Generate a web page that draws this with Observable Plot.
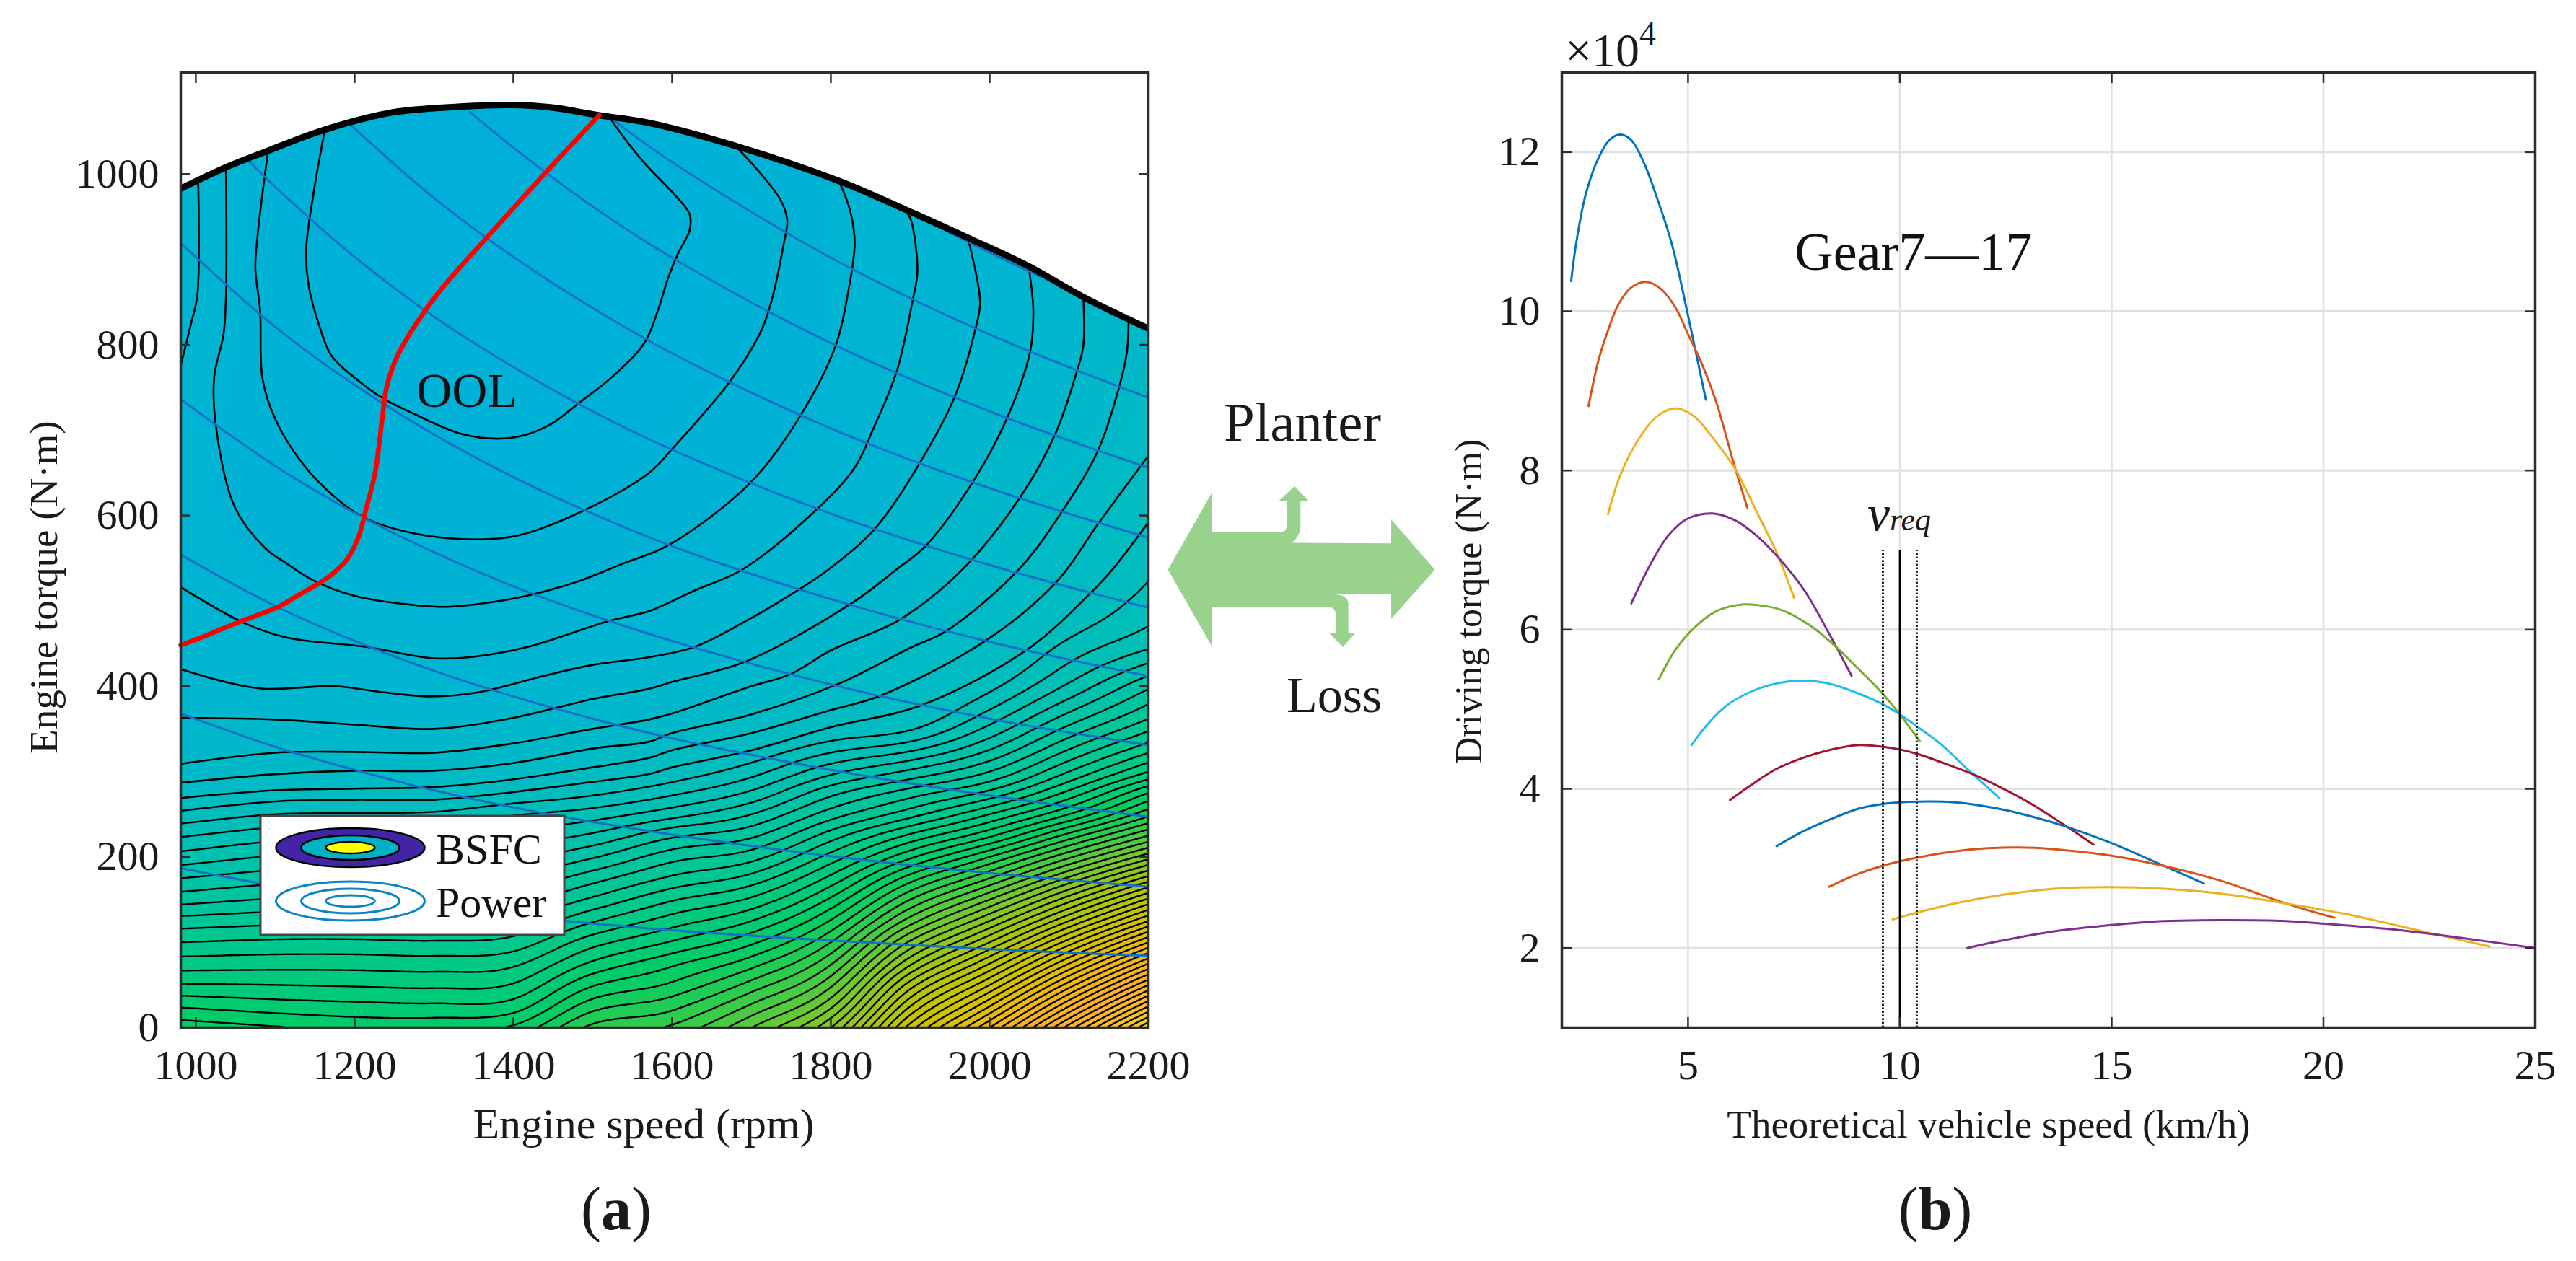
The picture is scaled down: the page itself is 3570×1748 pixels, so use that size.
<!DOCTYPE html>
<html><head><meta charset="utf-8">
<script src="https://cdn.jsdelivr.net/npm/d3@7"></script>
<script src="https://cdn.jsdelivr.net/npm/@observablehq/plot@0.6"></script>
<style>
html,body{margin:0;padding:0;background:#fff}
#root{position:relative;width:3570px;height:1748px;overflow:hidden;font-family:"Liberation Serif",serif;color:#1a1a1a}
#root>div.plot{position:absolute;top:0}
.lab{position:absolute;white-space:nowrap;transform:translate(-50%,-50%);line-height:1}
.rot{transform:translate(-50%,-50%) rotate(-90deg)}
svg.over{position:absolute;left:0;top:0}
</style></head>
<body><div id="root"></div>
<script>
// ---------- panel (a): values ----------
const speedTicks=[1000,1200,1400,1600,1800,2000,2200];
const torqueTicks=[0,200,400,600,800,1000];
const envelope=[[981,983],[1038,1008],[1090,1027],[1159,1051],[1246,1072],[1333,1079],[1397,1081],[1449,1078],[1507,1069],[1571,1060],[1680,1033],[1810,992],[1895,958],[1976,924],[2049,892],[2118,856],[2200,819]];
const ool=[[1508,1069],[1443,1004],[1368,927],[1310,866],[1275,821],[1252,783],[1240,749],[1235,715],[1226,651],[1214,606],[1205,575],[1190,548],[1170,530],[1154,520],[1130,507],[1106,494],[1080,484],[1057,476],[1035,468],[1012,459],[981,448]];
const bsfc1=[[1162,1049],[1148,976],[1139,911],[1142,870],[1156,821],[1171,787],[1206,757],[1238,736],[1275,719],[1333,696],[1379,690],[1414,694],[1449,708],[1483,732],[1524,762],[1565,802],[1582,840],[1596,881],[1608,908],[1622,934],[1622,953],[1605,974],[1565,1013],[1536,1047],[1520,1068]];
const bsfc2=[[1091,1027],[1078,930],[1075,889],[1081,840],[1084,760],[1101,711],[1136,659],[1171,625],[1211,598],[1275,579],[1356,572],[1408,577],[1489,606],[1571,650],[1601,679],[1672,756],[1711,814],[1723,844],[1741,920],[1745,946],[1737,969],[1713,999],[1680,1033]];
const bsfc3=[[1038,1006],[1038,859],[1035,813],[1023,761],[1026,700],[1049,610],[1087,562],[1114,544],[1150,523],[1199,506],[1256,497],[1316,493],[1377,499],[1426,508],[1479,522],[1539,544],[1595,565],[1697,637],[1761,716],[1806,799],[1822,863],[1830,920],[1824,958],[1812,988]];
const bsfc4a=[[1003,990],[1002,859],[994,825],[981,776]];
const bsfc4b=[[981,516],[1061,474],[1114,457],[1215,446],[1296,433],[1345,434],[1418,446],[1519,476],[1571,488],[1628,512],[1689,537],[1782,607],[1830,656],[1855,705],[1883,769],[1903,852],[1909,886],[1901,946],[1895,956]];
const bsfc5=[[981,420],[1033,406],[1085,397],[1175,400],[1235,393],[1296,388],[1357,393],[1438,412],[1500,425],[1571,434],[1628,446],[1700,480],[1761,514],[1796,536],[1855,584],[1911,660],[1956,739],[1982,818],[1988,848],[1984,878],[1974,920]];
const bsfc6=[[981,363],[1100,361],[1200,355],[1300,350],[1400,363],[1500,385],[1571,397],[1600,405],[1693,429],[1826,497],[1883,537],[1920,565],[1980,641],[2021,712],[2051,792],[2055,841],[2049,892]];
const bsfc7=[[981,309],[1100,322],[1200,323],[1300,322],[1400,333],[1500,350],[1571,361],[1600,368],[1700,400],[1749,414],[1800,442],[1887,478],[1966,537],[2039,622],[2082,694],[2110,769],[2118,799],[2118,856]];
const bsfc8=[[981,287],[1100,297],[1200,301],[1300,301],[1400,310],[1500,327],[1571,335],[1600,345],[1700,367],[1810,403],[1900,445],[1946,465],[2037,537],[2090,603],[2136,675],[2163,750],[2173,792],[2175,828]];
const bsfc9=[[981,269],[1100,278],[1200,280],[1300,282],[1400,291],[1500,305],[1571,316],[1600,325],[1700,345],[1800,372],[1863,389],[1996,454],[2084,522],[2138,592],[2200,670]];
const bsfc10=[[981,254],[1100,265],[1200,267],[1300,267],[1400,276],[1500,288],[1571,297],[1600,305],[1700,325],[1800,352],[1915,378],[2049,444],[2128,510],[2155,537],[2200,592]];
const bsfcLines=[bsfc1,bsfc2,bsfc3,bsfc4a,bsfc4b,bsfc5,bsfc6,bsfc7,bsfc8,bsfc9,bsfc10];

const power1=[[981,187],[1100,166],[1200,153],[1300,141],[1400,131],[1500,122],[1600,114],[1800,102],[2000,92],[2200,84]];
const power2=[[981,368],[1100,329],[1200,302],[1300,278],[1400,258],[1500,241],[1600,226],[1800,201],[2000,181],[2200,165]];
const power3=[[981,554],[1100,494],[1200,453],[1300,418],[1400,388],[1500,362],[1600,339],[1800,302],[2000,272],[2200,247]];
const power4=[[981,736],[1100,658],[1200,603],[1300,557],[1400,517],[1500,483],[1600,453],[1800,402],[2000,362],[2200,331]];
const power5=[[981,919],[1100,821],[1200,753],[1300,695],[1400,645],[1500,602],[1600,564],[1800,502],[2000,452],[2200,412]];
const power6=[[1067,1015],[1100,985],[1200,903],[1300,833],[1400,774],[1500,722],[1600,677],[1800,602],[2000,542],[2200,492]];
const power7=[[1197,1056],[1300,972],[1400,903],[1500,843],[1600,790],[1800,702],[2000,632],[2200,574]];
const power8=[[1345,1073],[1400,1031],[1500,962],[1600,902],[1800,802],[2000,722],[2200,656]];
const power9=[[1525,1064],[1600,1014],[1800,902],[2000,812],[2200,738]];
const power10=[[1895,958],[2000,908],[2100,865],[2200,825]];
const powerLines=[power1,power2,power3,power4,power5,power6,power7,power8,power9,power10];

// BSFC contour level counted at each speed (columns) and torque (rows)
const fieldSpeeds=[981,1100,1200,1300,1400,1500,1600,1700,1800,1900,2000,2100,2200];
const fieldTorques=[0,25,50,75,100,125,150,175,200,225,250,275,300,350,400,450,500,600,700,800,900,1000,1119];
const level981 =[26.6,24.9,23.1,21.5,20,18.4,16.6,15,13.4,11.9,10.3,8.7,7.4,6.2,5.3,4.7,4.2,3.5,3.6,4.5,5,5,5];
const level1100=[26.1,24.5,23,21.6,20.2,18.7,17.1,15.6,14.1,12.6,11,9.2,7.9,6.7,5,4.2,3.3,2.3,2,2,2,2,2];
const level1200=[25.7,24.3,22.9,21.6,20.2,18.8,17.3,15.9,14.4,12.8,11.1,9.3,8,6.1,5,3.9,3.1,2,1,.8,.6,.6,.6];
const level1300=[25.7,24.2,22.8,21.5,20.1,18.7,17.2,15.8,14.4,12.8,11.2,9.4,8,6,4.7,3.7,2.7,1.8,1,.5,.3,.3,.3];
const level1400=[26.2,24.5,23.1,21.8,20.4,19,17.6,16.1,14.7,13.3,11.9,10.1,8.5,6.5,5.05,3.9,3,1.7,.9,.5,.3,.3,.3];
const level1500=[29.3,27.6,25.9,24.2,22.6,20.9,19.2,17.6,15.9,14.2,12.5,10.8,9.3,7,5.6,4.4,3.3,1.7,1,.7,.5,.5,.5];
const level1600=[30.2,28.7,27.2,25.8,24.1,22.5,20.9,19.2,17.6,15.8,13.6,11.8,10.3,7.8,6.1,4.8,3.9,2.2,1.5,1.1,1,1,1];
const level1700=[33,31.2,29.4,27.6,25.8,24,22.2,20.4,18.6,16.8,15,13.2,11.6,8.9,7,5.6,4.6,3.4,2.2,2,2,2,2];
const level1800=[37,34.8,32.8,30.9,29,27.1,25.2,23.3,21.4,19.5,17.5,15.7,13.7,10.1,8,6.8,5.7,4.2,3.3,3,3,3,3];
const level1900=[45.5,43,40.5,37.8,35.2,32.5,30,27.5,24.8,22.2,19.6,17.5,15.2,10.9,8.9,7.6,6.5,5.4,4.6,4.2,3.8,3.8,3.8];
const level2000=[52,49,46,43,40,37,34,31,28,24.8,22,19.3,17,13.3,10.7,9.1,7.9,6.8,5.8,5,4.6,4.6,4.6];
const level2100=[59.5,56,52.5,49,45.5,42,38.6,35.2,31.8,28.4,25,22.3,20,16.3,13.2,11.2,9.8,8.2,6.6,6,5.5,5.5,5.5];
const level2200=[67,63,59,55,51,47,43.2,39.4,35.6,32,28.7,26,23,18.8,15.8,12.7,11.4,9.9,8.6,7.6,7,7,7];
const fieldColumns=[level981,level1100,level1200,level1300,level1400,level1500,level1600,level1700,level1800,level1900,level2000,level2100,level2200];
const colorLevels=[0,5,10,15,20,26,30,35,40,46,52,58,63,67];
const colorStops=["#00b0d9","#00b6d0","#00bcc0","#00c2a8","#00c78f","#00cc66","#33cc4a","#77c830","#a6c414","#ccc400","#f0b810","#ffb02e","#fbbf28","#f0d818"];
const contourLevels=d3.range(11,68);

// ---------- panel (b): values ----------
const vehicleTicks=[5,10,15,20,25];
const driveTicks=[2,4,6,8,10,12];
const gear7=[[2.24,10.38],[2.36,10.86],[2.58,11.46],[2.88,11.92],[3.14,12.15],[3.40,12.22],[3.66,12.15],[3.97,11.85],[4.27,11.42],[4.62,10.84],[4.97,10.02],[5.23,9.37],[5.42,8.89]];
const gear8=[[2.65,8.81],[2.88,9.375],[3.10,9.745],[3.36,10.09],[3.66,10.30],[4.01,10.37],[4.36,10.28],[4.70,10.05],[5.01,9.70],[5.31,9.36],[5.66,8.87],[6.09,8.07],[6.40,7.53]];
const gear9=[[3.11,7.45],[3.40,7.94],[3.84,8.40],[4.27,8.68],[4.70,8.78],[5.14,8.68],[5.57,8.42],[6.09,8.04],[6.62,7.48],[7.09,6.97],[7.51,6.39]];
const gear10=[[3.66,6.33],[4.10,6.81],[4.53,7.18],[4.97,7.39],[5.57,7.46],[6.09,7.38],[6.62,7.18],[7.14,6.90],[7.75,6.49],[8.35,5.93],[8.86,5.42]];
const gear11=[[4.31,5.375],[4.70,5.745],[5.14,6.02],[5.66,6.23],[6.18,6.31],[6.62,6.31],[7.22,6.245],[7.83,6.07],[8.40,5.83],[8.96,5.54],[9.57,5.21],[10.0,4.935],[10.47,4.60]];
const gear12=[[5.08,4.55],[5.49,4.83],[5.92,5.05],[6.44,5.21],[7.05,5.32],[7.75,5.36],[8.35,5.32],[8.96,5.21],[9.57,5.07],[10.0,4.935],[10.44,4.77],[10.96,4.565],[11.65,4.22],[12.35,3.885]];
const gear13=[[5.99,3.86],[6.44,4.03],[7.05,4.24],[7.66,4.38],[8.35,4.49],[9.05,4.55],[9.57,4.53],[10.0,4.495],[10.44,4.435],[11.05,4.32],[11.83,4.16],[12.33,4.03],[12.84,3.89],[13.2,3.78],[13.9,3.54],[14.57,3.30]];
const gear14=[[7.09,3.28],[7.66,3.45],[8.35,3.615],[9.05,3.755],[9.66,3.815],[10.44,3.84],[11.31,3.83],[12.33,3.75],[13.2,3.64],[13.9,3.53],[14.94,3.33],[16.16,3.05],[17.18,2.81]];
const gear15=[[8.33,2.77],[8.96,2.92],[9.57,3.03],[10.35,3.13],[11.22,3.21],[12.09,3.255],[13.2,3.26],[14.07,3.22],[15.0,3.16],[16.24,3.03],[17.55,2.85],[19.11,2.56],[20.26,2.38]];
const gear16=[[9.83,2.36],[10.44,2.45],[11.39,2.57],[12.33,2.66],[13.64,2.745],[14.94,2.765],[16.24,2.745],[17.55,2.685],[19.11,2.56],[20.59,2.42],[22.33,2.21],[23.92,2.02]];
const gear17=[[11.59,2.0],[12.33,2.085],[13.64,2.21],[15.0,2.29],[16.24,2.34],[17.72,2.35],[19.11,2.34],[20.15,2.30],[21.89,2.22],[23.63,2.10],[25,2.0]];
const gears=[gear7,gear8,gear9,gear10,gear11,gear12,gear13,gear14,gear15,gear16,gear17];
const gearColors=["#0072bd","#d95319","#edb120","#7e2f8e","#77ac30","#20bcee","#a2142f","#0072bd","#d95319","#edb120","#7e2f8e"];
const vReq=[10];
const vReqBand=[9.6,10.4];
const vReqTop=[7];

// ---------- helpers ----------
const FONT='"Liberation Serif",serif';
function hermite(xs,ys,x){
  let i=d3.bisectRight(xs,x)-1; i=Math.max(0,Math.min(xs.length-2,i));
  const n=xs.length,h=xs[i+1]-xs[i],t=(x-xs[i])/h;
  const m0=i>0?(ys[i+1]-ys[i-1])/(xs[i+1]-xs[i-1]):(ys[1]-ys[0])/(xs[1]-xs[0]);
  const m1=i<n-2?(ys[i+2]-ys[i])/(xs[i+2]-xs[i]):(ys[n-1]-ys[n-2])/(xs[n-1]-xs[n-2]);
  const t2=t*t,t3=t2*t;
  return (2*t3-3*t2+1)*ys[i]+(t3-2*t2+t)*h*m0+(-2*t3+3*t2)*ys[i+1]+(t3-t2)*h*m1;
}
const xDom=[981,2200],yDom=[0,1119];
const W=671,H=662,grid=new Float64Array(W*H);
for(let i=0;i<W;i++){
  const s=xDom[0]+(xDom[1]-xDom[0])*(i+.5)/W;
  const col=fieldTorques.map((_,r)=>hermite(fieldSpeeds,fieldColumns.map(c=>c[r]),s));
  for(let j=0;j<H;j++){
    const t=yDom[1]*(1-(j+.5)/H);
    grid[j*W+i]=hermite(fieldTorques,col,t);
  }
}
const gridOpts={width:W,height:H,x1:xDom[0],x2:xDom[1],y1:yDom[1],y2:yDom[0]};
const xy={x:d=>d[0],y:d=>d[1]};
const frameStroke="#2c2c2c";

// ---------- panel (a) ----------
const left=Plot.plot({
  width:1621,height:1560,marginLeft:250,marginRight:30,marginTop:100,marginBottom:136,
  style:{fontFamily:FONT,fontSize:"58px",background:"transparent",color:"#1a1a1a",overflow:"visible"},
  x:{domain:xDom},y:{domain:yDom},
  color:{type:"linear",domain:colorLevels,range:colorStops,interpolate:"rgb"},
  marks:[
    Plot.raster(Array.from(grid),{...gridOpts}),
    Plot.contour(Array.from(grid),{...gridOpts,thresholds:contourLevels,stroke:"#000",fill:"none",strokeWidth:2.4,clip:true}),
    ...bsfcLines.map(l=>Plot.line(l,{...xy,stroke:"#000",strokeWidth:2.6,curve:"catmull-rom",clip:true})),
    ...powerLines.map(l=>Plot.line(l,{...xy,stroke:"#1570c6",strokeWidth:3,curve:"catmull-rom",clip:true})),
    Plot.areaY(envelope,{x:d=>d[0],y1:d=>d[1],y2:()=>yDom[1],fill:"#fff",curve:"catmull-rom"}),
    Plot.line(envelope,{...xy,stroke:"#000",strokeWidth:9,curve:"catmull-rom",clip:true}),
    Plot.line(ool,{...xy,stroke:"#ff0000",strokeWidth:6.5,curve:"catmull-rom"}),
    Plot.text(["OOL"],{x:()=>1278,y:()=>746,textAnchor:"start",fontSize:68,fill:"#111"}),
    Plot.axisX({anchor:"bottom",ticks:speedTicks,tickSize:-14,tickPadding:44,tickFormat:d=>String(d),label:null,stroke:frameStroke,strokeWidth:2.5}),
    Plot.axisX({anchor:"top",ticks:speedTicks,tickSize:-14,tickFormat:()=>"",label:null,stroke:frameStroke,strokeWidth:2.5}),
    Plot.axisY({anchor:"left",ticks:torqueTicks,tickSize:-14,tickPadding:44,tickFormat:d=>String(d),label:null,stroke:frameStroke,strokeWidth:2.5}),
    Plot.axisY({anchor:"right",ticks:torqueTicks,tickSize:-14,tickFormat:()=>"",label:null,stroke:frameStroke,strokeWidth:2.5}),
    Plot.frame({stroke:frameStroke,strokeWidth:3.5})
  ]
});

// ---------- panel (b) ----------
const right=Plot.plot({
  width:1670,height:1560,marginLeft:264,marginRight:57,marginTop:100,marginBottom:136,
  style:{fontFamily:FONT,fontSize:"58px",background:"transparent",color:"#1a1a1a",overflow:"visible"},
  x:{domain:[2.02,25]},y:{domain:[1,13]},
  marks:[
    Plot.gridX({ticks:vehicleTicks,stroke:"#e0e0e0",strokeOpacity:1,strokeWidth:2.5}),
    Plot.gridY({ticks:driveTicks,stroke:"#e0e0e0",strokeOpacity:1,strokeWidth:3}),
    ...gears.map((g,i)=>Plot.line(g,{...xy,stroke:gearColors[i],strokeWidth:3,curve:"catmull-rom"})),
    Plot.ruleX(vReq,{y1:1,y2:vReqTop[0],stroke:"#000",strokeWidth:2.6}),
    Plot.ruleX(vReqBand,{y1:1,y2:vReqTop[0],stroke:"#222",strokeWidth:3,strokeDasharray:"2.5,2.5"}),
    Plot.text(["Gear7\u201417"],{x:()=>7.52,y:()=>10.74,textAnchor:"start",fontSize:74,fill:"#111"}),
    Plot.axisX({anchor:"bottom",ticks:vehicleTicks,tickSize:-14,tickPadding:44,label:null,stroke:frameStroke,strokeWidth:2.5}),
    Plot.axisX({anchor:"top",ticks:vehicleTicks,tickSize:-14,tickFormat:()=>"",label:null,stroke:frameStroke,strokeWidth:2.5}),
    Plot.axisY({anchor:"left",ticks:driveTicks,tickSize:-14,tickPadding:44,label:null,stroke:frameStroke,strokeWidth:2.5}),
    Plot.axisY({anchor:"right",ticks:driveTicks,tickSize:-14,tickFormat:()=>"",label:null,stroke:frameStroke,strokeWidth:2.5}),
    Plot.frame({stroke:frameStroke,strokeWidth:3.5})
  ]
});

// ---------- page assembly ----------
const root=document.getElementById("root");
function place(node,x){const d=document.createElement("div");d.className="plot";d.style.left=x+"px";d.appendChild(node);root.appendChild(d);}
place(left,0);place(right,1900);
function label(html,x,y,size,extra){
  const d=document.createElement("div");d.className="lab"+(extra?" "+extra:"");
  d.innerHTML=html;d.style.left=x+"px";d.style.top=y+"px";d.style.fontSize=size+"px";root.appendChild(d);return d;
}
label("Engine torque (N\u00b7m)",60,814,55,"rot");
label("Engine speed (rpm)",892,1558,60);
label("Driving torque (N\u00b7m)",2036,834,52,"rot");
label("Theoretical vehicle speed (km/h)",2756,1558,55);
label("(<b>a</b>)",854,1676,84);
label("(<b>b</b>)",2682,1676,84);
label("Planter",1805,585,77);
label("Loss",1849,964,70);
label("\u00d710<sup style='font-size:46px;vertical-align:30px;line-height:0'>4</sup>",2232,70,66);
label("<i style='font-size:70px'>v</i><i style='font-size:44px'>req</i>",2632,712,44);

const over=document.createElementNS("http://www.w3.org/2000/svg","svg");
over.setAttribute("class","over");over.setAttribute("width",3570);over.setAttribute("height",1748);
over.innerHTML=`
<path fill="#98d28c" d="M1618.6 789.7L1679 683.7V738H1771.7Q1783 738 1783 729.6V695H1771.7L1794 674L1814.4 695H1802.3V729.6Q1802.3 742 1790.8 752.6L1928 753.3V720L1988.5 789.7L1928 857.8V824H1851.4Q1868.6 826 1868.6 836.8V877H1878.8L1861 897L1841.8 877H1851.4V852Q1851 842 1841.8 841.7H1679V895.3Z"/>
<rect x="361" y="1131" width="421" height="165" fill="#fff" stroke="#444" stroke-width="3"/>
<ellipse cx="485.5" cy="1175" rx="103" ry="27" fill="#4224a4" stroke="#000" stroke-width="2.5"/>
<ellipse cx="485.5" cy="1175" rx="68" ry="17" fill="#00b0c4" stroke="#000" stroke-width="2.5"/>
<ellipse cx="485.5" cy="1175" rx="34" ry="8" fill="#ffff00" stroke="#000" stroke-width="2.5"/>
<ellipse cx="485.5" cy="1249" rx="103" ry="27" fill="none" stroke="#0a84c6" stroke-width="3"/>
<ellipse cx="485.5" cy="1249" rx="68" ry="17" fill="none" stroke="#0a84c6" stroke-width="3"/>
<ellipse cx="485.5" cy="1249" rx="34" ry="8" fill="none" stroke="#0a84c6" stroke-width="3"/>
<text x="604" y="1197" font-family='"Liberation Serif",serif' font-size="60" fill="#111">BSFC</text>
<text x="604" y="1271" font-family='"Liberation Serif",serif' font-size="60" fill="#111">Power</text>`;
root.appendChild(over);
</script></body></html>
